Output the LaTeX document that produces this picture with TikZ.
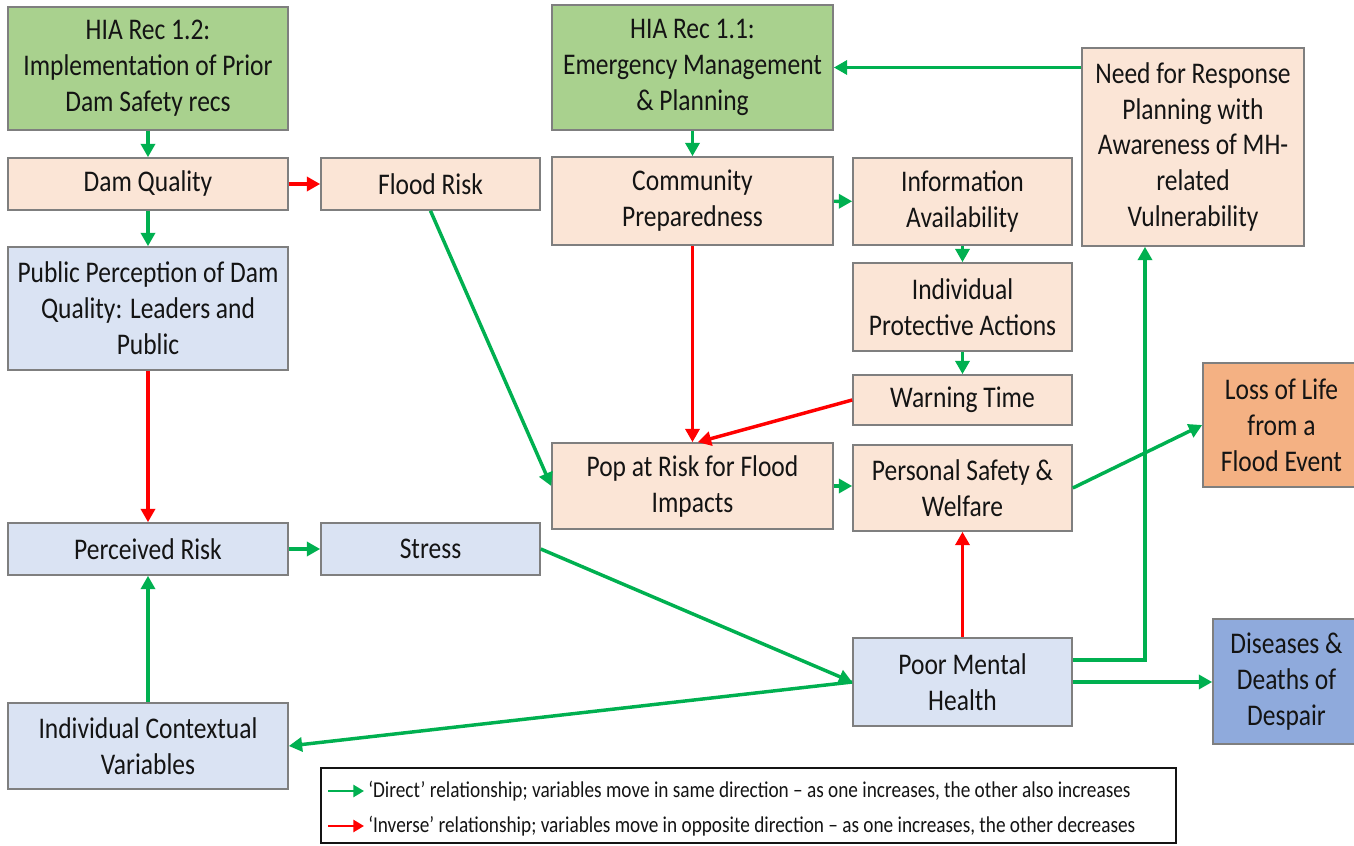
\documentclass[tikz,border=0pt]{standalone}
\usepackage{fontspec}
\setmainfont{Carlito}[FakeStretch=0.85]
\usetikzlibrary{arrows.meta}
\definecolor{recgreen}{HTML}{A9D18E}
\definecolor{peach}{HTML}{FBE5D6}
\definecolor{paleblue}{HTML}{DAE3F3}
\definecolor{outcomeorange}{HTML}{F4B183}
\definecolor{outcomeblue}{HTML}{8FAADC}
\definecolor{edgegray}{HTML}{7F7F7F}
\definecolor{directgreen}{HTML}{00B050}
\definecolor{inversered}{HTML}{FF0000}
\definecolor{ink}{HTML}{141414}
\tikzset{
  box/.style={draw=edgegray, line width=1.2pt, align=center, inner sep=0pt,
    text=ink, font=\fontsize{22.5}{27}\selectfont},
  rec/.style={box, fill=recgreen},
  phys/.style={box, fill=peach},
  psych/.style={box, fill=paleblue},
  lossbox/.style={box, fill=outcomeorange},
  despairbox/.style={box, fill=outcomeblue},
  garr/.style={draw=directgreen, line width=2.6pt,
    -{Triangle[length=10pt, width=10.5pt]}},
  rarr/.style={draw=inversered, line width=2.6pt,
    -{Triangle[length=10pt, width=10.5pt]}},
  legtext/.style={anchor=west, inner sep=0pt, text=ink,
    font=\fontsize{17}{20}\selectfont},
}
% box from pixel corners (x1,y1)-(x2,y2)
\newcommand\pbox[7]{%
  \pgfmathsetmacro\bw{(#4-#2)*0.75}%
  \pgfmathsetmacro\bh{(#5-#3)*0.75}%
  \node[#6, minimum width=\bw pt, minimum height=\bh pt] (#1)
    at ({(#2+#4)/2},{(#3+#5)/2}) {#7};}
\begin{document}
\begin{tikzpicture}[x=0.75pt, y=-0.75pt]
\useasboundingbox (0,0) rectangle (1354,846);

% left column: dam safety chain
\pbox{r12}{8}{7}{288}{130}{rec}{HIA Rec 1.2:\\Implementation of Prior\\Dam Safety recs}
\pbox{damq}{8}{158}{288}{210}{phys}{Dam Quality}
\pbox{flood}{321}{158}{540}{210}{phys}{Flood Risk}
\pbox{pub}{8}{247}{288}{370}{psych}{Public Perception of Dam\\Quality: Leaders and\\Public}
\pbox{perc}{8}{523}{288}{575}{psych}{Perceived Risk}
\pbox{stress}{321}{523}{540}{575}{psych}{Stress}
\pbox{ictx}{8}{703}{288}{789}{psych}{Individual Contextual\\Variables}

% emergency management chain
\pbox{r11}{552}{5}{833}{130}{rec}{HIA Rec 1.1:\\Emergency Management\\\& Planning}
\pbox{comm}{552}{157}{833}{245}{phys}{Community\\Preparedness}
\pbox{info}{853}{158}{1072}{245}{phys}{Information\\Availability}
\pbox{need}{1082}{48}{1304}{246}{phys}{Need for Response\\Planning with\\Awareness of MH-\\related\\Vulnerability}
\pbox{indprot}{853}{263}{1072}{351}{phys}{Individual\\Protective Actions}
\pbox{warn}{853}{375}{1072}{425}{phys}{Warning Time}
\pbox{pop}{552}{443}{833}{529}{phys}{Pop at Risk for Flood\\Impacts}
\pbox{pers}{853}{445}{1072}{531}{phys}{Personal Safety \&\\Welfare}
\pbox{poor}{853}{638}{1072}{726}{psych}{Poor Mental\\Health}

% outcomes
\pbox{loss}{1203}{363}{1360}{487}{lossbox}{Loss of Life\\from a\\Flood Event}
\pbox{dis}{1213}{619}{1360}{744}{despairbox}{Diseases \&\\Deaths of\\Despair}

% connectors
\draw[garr] (r12) -- (damq);
\draw[rarr] (damq) -- (flood);
\draw[garr] (damq) -- (pub);
\draw[rarr] (pub) -- (perc);
\draw[garr] (ictx) -- (perc);
\draw[garr] (perc) -- (stress);
\draw[garr] (flood.south) -- (pop.west);
\draw[garr] (r11) -- (comm);
\draw[garr] (comm) -- (info);
\draw[garr] (info) -- (indprot);
\draw[garr] (indprot) -- (warn);
\draw[rarr] (comm) -- (pop);
\draw[rarr] (warn.west) -- ([xshift=4pt]pop.north);
\draw[garr] (pop.east) -- (pers.west |- pop.east);
\draw[garr] (pers.east) -- (loss.west);
\draw[rarr] (poor) -- (pers);
\draw[garr] (stress.east) -- (poor.west);
\draw[garr] (poor.west) -- (ictx.east);
\draw[garr] ([yshift=16.5pt]poor.east) -| ([xshift=-36pt]need.south);
\draw[garr] (poor.east) -- (dis.west |- poor.east);
\draw[garr] (need.west |- r11.east) -- (r11.east);

% legend
\pbox{legend}{321}{768}{1176}{843}{box, draw=ink, line width=1.5pt, fill=white}{}
\coordinate (dirA) at (328,791);
\coordinate (dirB) at (364,791);
\coordinate (invA) at (328,826);
\coordinate (invB) at (364,826);
\draw[garr, line width=2.2pt, -{Triangle[length=8pt, width=9pt]}] (dirA) -- (dirB);
\draw[rarr, line width=2.2pt, -{Triangle[length=8pt, width=9pt]}] (invA) -- (invB);
\node[legtext] (dirtext) at (368,791) {‘Direct’ relationship; variables move in same direction – as one increases, the other also increases};
\node[legtext] (invtext) at (368,826) {‘Inverse’ relationship; variables move in opposite direction – as one increases, the other decreases};
\end{tikzpicture}
\end{document}
